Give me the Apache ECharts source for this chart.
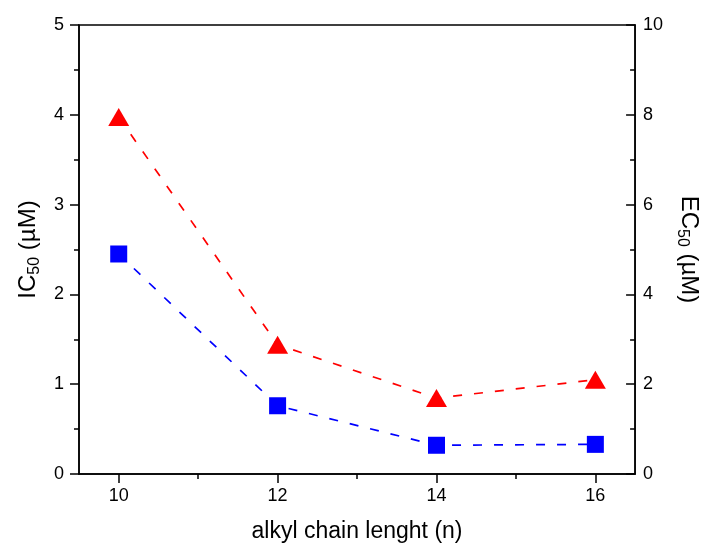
<!DOCTYPE html>
<html>
<head>
<meta charset="utf-8">
<script src="https://cdn.jsdelivr.net/npm/echarts@6/dist/echarts.min.js"></script>
<style>html,body{margin:0;padding:0;background:#fff}#c{width:712px;height:550px}</style>
</head>
<body>
<div id="c"></div>
<script>
// Data
var chainLength = [10, 12, 14, 16];
var ic50 = [2.45, 0.76, 0.32, 0.33];        // blue squares, left axis (µM)
var ec50 = [7.95, 2.88, 1.69, 2.10];        // red triangles, right axis (µM)
var xMajorTicks = [10, 12, 14, 16];
var xMinorTicks = [11, 13, 15];

var FONT = 'Liberation Sans, Arial, sans-serif';

function pairs(xs, ys) { return xs.map(function (x, i) { return [x, ys[i]]; }); }

var chart = echarts.init(document.getElementById('c'), null, { renderer: 'canvas' });
chart.setOption({
  animation: false,
  backgroundColor: '#fff',
  grid: { left: 79, right: 73, top: 25, bottom: 76, show: true, borderColor: '#000', borderWidth: 1.5, backgroundColor: 'transparent' },
  xAxis: [{
    type: 'value', min: 9.5, max: 16.5,
    name: 'alkyl chain lenght (n)', nameLocation: 'middle', nameGap: 46,
    nameTextStyle: { fontFamily: FONT, fontSize: 23, color: '#000' },
    axisLine: { show: true, lineStyle: { color: '#000', width: 1.5 } },
    axisTick: { show: true, length: 9, lineStyle: { color: '#000', width: 1.5 }, customValues: xMajorTicks },
    axisLabel: { fontFamily: FONT, fontSize: 18, color: '#000', margin: 13, customValues: xMajorTicks },
    splitLine: { show: false }
  }, {
    type: 'value', min: 9.5, max: 16.5, position: 'bottom',
    axisLine: { show: false },
    axisTick: { show: true, length: 5, lineStyle: { color: '#000', width: 1.5 }, customValues: xMinorTicks },
    axisLabel: { show: false },
    splitLine: { show: false }
  }],
  yAxis: [{
    type: 'value', min: 0, max: 5, interval: 1, position: 'left',
    name: 'IC{sub|50} (µM)', nameLocation: 'middle', nameGap: 42, nameRotate: 90,
    nameTextStyle: { fontFamily: FONT, fontSize: 24, color: '#000', lineHeight: 30, verticalAlign: 'middle',
      rich: { sub: { fontFamily: FONT, fontSize: 16, lineHeight: 16, verticalAlign: 'bottom', color: '#000' } } },
    axisLine: { show: true, lineStyle: { color: '#000', width: 1.5 } },
    axisTick: { show: true, length: 9, lineStyle: { color: '#000', width: 1.5 } },
    minorTick: { show: true, splitNumber: 2, length: 5, lineStyle: { color: '#000', width: 1.5 } },
    axisLabel: { fontFamily: FONT, fontSize: 18, color: '#000', margin: 15 },
    splitLine: { show: false }
  }, {
    type: 'value', min: 0, max: 10, interval: 2, position: 'right',
    name: 'EC{sub|50} (µM)', nameLocation: 'middle', nameGap: 38, nameRotate: -90,
    nameTextStyle: { fontFamily: FONT, fontSize: 24, color: '#000', lineHeight: 30, verticalAlign: 'middle',
      rich: { sub: { fontFamily: FONT, fontSize: 16, lineHeight: 16, verticalAlign: 'bottom', color: '#000' } } },
    axisLine: { show: true, lineStyle: { color: '#000', width: 1.5 } },
    axisTick: { show: true, inside: true, length: 9, lineStyle: { color: '#000', width: 1.5 } },
    axisLabel: { fontFamily: FONT, fontSize: 18, color: '#000', margin: 8 },
    splitLine: { show: false }
  }, {
    type: 'value', min: 0, max: 10, interval: 1, position: 'right',
    axisLine: { show: false },
    axisTick: { show: true, inside: true, length: 5, lineStyle: { color: '#000', width: 1.5 } },
    axisLabel: { show: false },
    splitLine: { show: false }
  }],
  series: [{
    name: 'IC50', type: 'line', xAxisIndex: 0, yAxisIndex: 0,
    data: pairs(chainLength, ic50),
    symbol: 'rect', symbolSize: 17,
    itemStyle: { color: '#0000ff' },
    lineStyle: { color: '#0000ff', width: 1.7, type: [9, 12] }
  }, {
    name: 'EC50', type: 'line', xAxisIndex: 0, yAxisIndex: 1,
    data: pairs(chainLength, ec50),
    symbol: 'triangle', symbolSize: [21, 18],
    itemStyle: { color: '#ff0000' },
    lineStyle: { color: '#ff0000', width: 1.7, type: [9, 12] }
  }]
});
</script>
</body>
</html>
